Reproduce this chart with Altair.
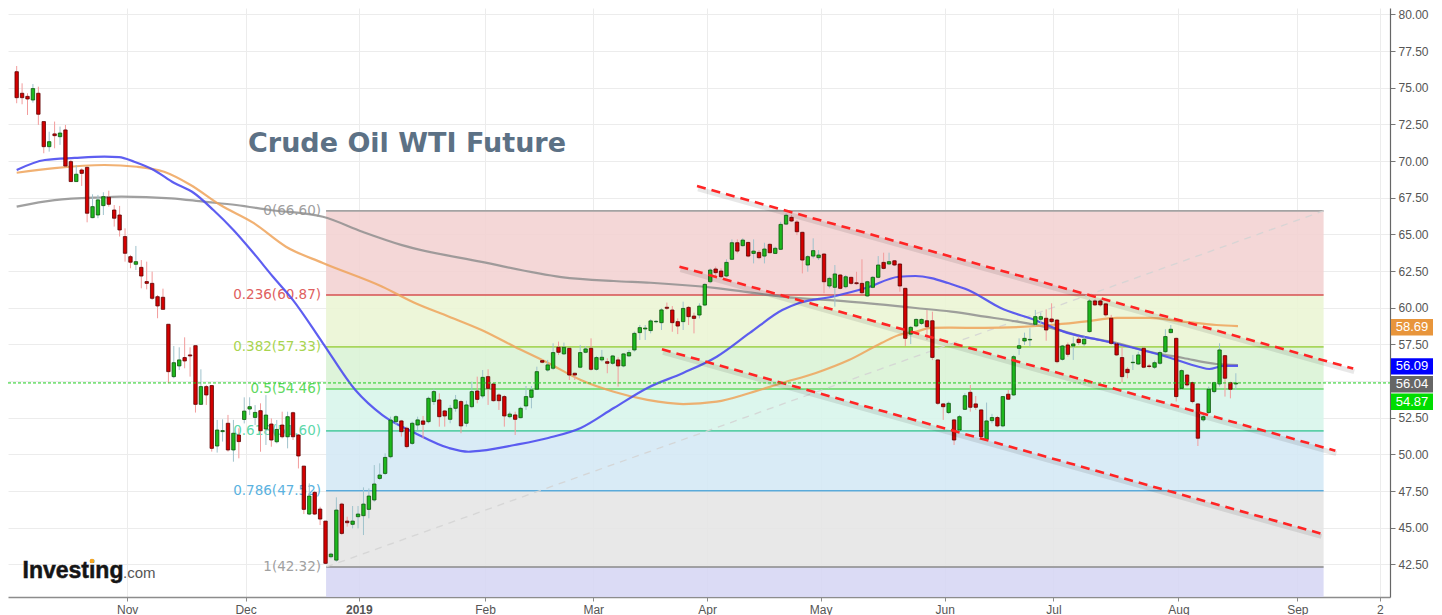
import altair as alt
import pandas as pd

# ---------------- candles (daily OHLC) ----------------
OPEN = [76.09, 74.62, 74.41, 74.16, 74.62, 72.69, 70.98, 71.85, 71.66, 72.12,
        69.96, 68.60, 69.39, 69.57, 66.14, 66.32, 66.96, 67.53, 66.66, 66.32,
        64.85, 63.48, 62.96, 62.75, 61.78, 61.66, 60.75, 60.71, 58.87, 55.30,
        56.03, 56.60, 56.78, 57.41, 53.41, 54.62, 54.69, 50.57, 51.55, 52.12,
        50.30, 51.32, 52.38, 53.09, 52.52, 52.98, 51.73, 52.07, 50.86, 52.00,
        51.20, 52.84, 51.32, 49.20, 45.93, 47.41, 46.27, 45.45, 43.02, 42.79,
        46.61, 45.45, 45.23, 45.75, 45.82, 46.25, 46.89, 48.36, 48.70, 49.84,
        52.23, 52.28, 51.78, 50.75, 52.00, 52.28, 52.23, 53.60, 53.71, 52.96,
        52.39, 53.14, 53.60, 52.12, 53.25, 54.32, 53.98, 55.30, 54.80, 54.05,
        53.94, 52.57, 52.69, 52.50, 53.30, 53.89, 54.44, 56.39, 55.75, 55.87,
        57.30, 56.85, 57.23, 55.53, 55.94, 56.96, 57.23, 55.80, 56.44, 56.32,
        56.21, 56.44, 56.03, 56.71, 57.12, 58.30, 58.55, 58.44, 59.04, 58.98,
        60.03, 59.84, 59.05, 59.05, 60.02, 59.43, 59.50, 60.18, 61.77, 62.64,
        62.50, 62.16, 63.30, 64.43, 64.23, 64.45, 63.70, 63.77, 63.52, 64.32,
        63.70, 63.98, 65.70, 66.16, 65.84, 65.14, 62.91, 63.52, 63.41, 63.66,
        61.48, 61.39, 62.23, 61.43, 62.07, 61.70, 61.66, 60.80, 61.39, 62.07,
        63.09, 62.98, 63.20, 62.98, 61.32, 58.20, 58.75, 58.93, 59.11, 59.11,
        56.44, 53.44, 52.85, 52.35, 51.66, 53.07, 54.23, 53.44, 53.03, 51.03,
        52.30, 52.51, 51.94, 54.10, 54.05, 57.23, 57.73, 57.80, 58.87, 59.21,
        59.28, 59.23, 59.16, 56.48, 57.46, 57.39, 57.85, 57.53, 58.37, 60.46,
        60.46, 60.26, 59.28, 57.53, 56.60, 55.80, 56.25, 56.16, 57.23, 56.03,
        55.94, 56.21, 57.00, 58.30, 57.91, 54.50, 55.41, 54.89, 53.44, 52.35,
        52.85, 54.28, 54.80, 56.73, 54.89, 54.80]
HIGH = [76.48, 75.30, 74.62, 75.25, 75.07, 72.69, 72.00, 72.69, 72.35, 72.46,
        70.07, 69.73, 69.50, 69.62, 67.73, 67.69, 67.87, 67.98, 67.00, 66.94,
        65.41, 63.60, 64.21, 63.25, 63.14, 62.46, 60.87, 61.30, 58.87, 57.39,
        57.30, 57.98, 57.30, 57.41, 55.80, 54.73, 54.73, 52.35, 52.39, 52.69,
        52.35, 51.78, 53.89, 53.89, 53.36, 53.48, 54.04, 52.45, 52.34, 52.91,
        52.91, 52.91, 51.39, 49.20, 48.02, 47.52, 46.43, 45.45, 43.29, 47.07,
        46.70, 45.75, 46.48, 46.48, 47.75, 47.68, 49.27, 49.39, 50.07, 52.57,
        52.68, 52.35, 51.89, 52.23, 52.57, 52.62, 53.94, 54.50, 54.16, 53.03,
        53.37, 54.05, 53.71, 53.66, 54.96, 55.30, 55.75, 55.80, 54.89, 54.16,
        54.05, 52.91, 52.91, 53.25, 54.66, 54.66, 55.98, 56.50, 56.44, 57.57,
        57.69, 57.62, 57.23, 55.57, 57.46, 57.39, 57.91, 56.71, 57.12, 56.55,
        56.78, 56.62, 56.89, 57.12, 58.37, 58.82, 58.82, 59.21, 59.16, 59.96,
        60.35, 60.11, 59.27, 60.41, 60.11, 59.66, 60.30, 61.66, 62.68, 62.80,
        62.68, 63.30, 64.66, 64.66, 64.73, 64.50, 64.66, 63.93, 64.43, 64.39,
        64.16, 65.86, 66.43, 66.32, 65.98, 65.18, 63.59, 64.73, 63.93, 63.70,
        62.11, 62.91, 62.30, 62.23, 62.11, 62.45, 63.30, 61.84, 62.16, 63.52,
        63.75, 63.75, 63.25, 63.02, 61.36, 58.75, 59.27, 59.27, 59.84, 59.73,
        56.48, 53.48, 53.60, 52.39, 52.69, 54.17, 54.73, 53.98, 53.07, 53.53,
        52.76, 52.62, 53.98, 54.39, 56.78, 57.91, 58.30, 58.60, 59.85, 59.66,
        59.89, 60.30, 59.21, 57.46, 57.62, 58.03, 58.03, 58.03, 60.57, 60.57,
        60.57, 60.30, 59.51, 57.62, 57.35, 55.94, 56.78, 57.00, 57.35, 56.16,
        56.39, 57.07, 58.53, 58.82, 57.96, 55.80, 55.48, 54.96, 53.48, 52.69,
        54.62, 54.96, 57.57, 56.78, 54.96, 55.53]
LOW = [73.94, 73.87, 73.14, 73.98, 72.46, 70.53, 70.64, 70.87, 71.10, 69.62,
       68.60, 68.60, 68.30, 65.82, 66.10, 66.10, 66.32, 66.89, 65.53, 64.85,
       63.14, 62.69, 62.57, 61.32, 61.25, 60.53, 59.28, 59.89, 54.85, 55.19,
       55.75, 55.87, 55.30, 52.85, 53.37, 53.37, 50.19, 50.12, 50.87, 50.19,
       49.50, 49.73, 52.11, 52.68, 52.00, 50.18, 50.64, 50.52, 50.75, 51.09,
       50.41, 50.98, 49.04, 45.93, 45.86, 45.86, 45.18, 42.52, 42.91, 42.68,
       44.50, 45.07, 44.95, 44.95, 44.50, 45.64, 46.77, 48.25, 48.59, 49.73,
       52.00, 51.21, 50.41, 50.64, 51.66, 51.10, 52.12, 53.37, 51.89, 51.89,
       52.12, 52.91, 51.44, 51.89, 53.14, 53.48, 53.82, 53.37, 53.60, 53.03,
       51.89, 52.46, 51.32, 52.46, 53.03, 53.14, 54.39, 56.21, 55.64, 55.75,
       56.78, 56.78, 55.07, 55.07, 55.87, 56.89, 55.71, 55.71, 56.32, 55.53,
       56.10, 54.62, 55.94, 56.66, 57.00, 57.80, 57.80, 58.25, 58.94, 58.48,
       59.85, 58.36, 58.20, 58.48, 58.82, 58.25, 59.27, 60.11, 61.66, 62.11,
       62.00, 62.07, 63.25, 63.70, 64.16, 63.43, 63.02, 63.30, 63.02, 63.70,
       63.66, 63.93, 65.64, 65.84, 64.95, 62.34, 62.45, 63.36, 63.25, 60.98,
       61.32, 60.07, 61.25, 61.32, 61.55, 61.55, 60.93, 60.75, 61.32, 62.00,
       62.61, 62.91, 62.84, 61.09, 57.39, 57.52, 58.66, 58.82, 57.80, 56.43,
       53.37, 52.35, 52.75, 50.64, 51.55, 53.03, 52.91, 53.03, 51.10, 50.94,
       52.12, 51.85, 51.85, 53.71, 53.98, 56.78, 57.46, 57.35, 58.75, 58.82,
       57.75, 58.94, 56.21, 56.39, 56.66, 56.44, 57.46, 57.39, 58.30, 60.12,
       60.07, 59.39, 57.46, 56.71, 54.89, 55.19, 55.75, 56.10, 55.87, 55.87,
       55.82, 56.10, 56.89, 58.25, 53.60, 54.39, 54.62, 53.48, 50.57, 52.23,
       52.75, 54.17, 54.62, 53.94, 53.82, 54.39]
CLOSE = [74.32, 74.32, 74.23, 74.94, 73.19, 70.98, 71.32, 71.73, 71.91, 69.66,
         68.60, 69.10, 69.16, 66.44, 66.89, 67.35, 67.57, 67.05, 66.10, 65.30,
         63.71, 63.10, 63.14, 62.16, 61.66, 60.64, 60.12, 59.89, 55.64, 56.25,
         56.44, 56.37, 56.71, 53.41, 54.62, 54.05, 50.41, 51.66, 51.62, 50.30,
         51.44, 50.87, 52.95, 53.25, 52.86, 51.61, 52.68, 50.98, 51.70, 51.20,
         52.57, 51.20, 49.89, 46.25, 47.16, 45.93, 45.59, 42.57, 43.20, 46.20,
         44.61, 45.34, 45.45, 45.93, 46.61, 47.16, 47.98, 48.59, 49.79, 52.34,
         52.57, 51.55, 50.53, 52.12, 52.35, 52.05, 53.82, 54.28, 52.57, 52.62,
         53.14, 53.71, 51.94, 53.37, 54.28, 53.75, 55.25, 54.50, 53.66, 53.66,
         52.62, 52.75, 52.39, 53.14, 53.94, 54.39, 55.64, 56.28, 56.10, 56.94,
         56.96, 57.30, 55.41, 55.41, 56.94, 57.19, 55.80, 56.60, 56.62, 56.21,
         56.71, 56.03, 56.85, 56.94, 58.25, 58.64, 58.61, 59.10, 59.07, 59.85,
         59.96, 58.98, 58.75, 59.95, 59.39, 59.27, 60.11, 61.59, 62.57, 62.39,
         62.11, 63.09, 64.43, 63.86, 64.61, 63.52, 63.86, 63.41, 64.00, 63.75,
         64.05, 65.68, 66.30, 65.91, 65.18, 63.25, 63.48, 63.89, 63.59, 61.77,
         62.00, 62.30, 61.32, 62.11, 61.66, 61.64, 61.02, 61.77, 62.07, 62.91,
         62.68, 63.14, 62.91, 61.48, 57.91, 58.66, 59.20, 59.20, 58.70, 56.61,
         53.48, 53.25, 53.48, 50.98, 52.57, 54.00, 53.21, 53.21, 51.21, 52.28,
         52.51, 51.94, 53.94, 53.76, 56.66, 57.41, 57.91, 57.84, 59.39, 59.39,
         58.48, 59.05, 56.32, 57.39, 56.82, 57.53, 57.62, 57.85, 60.46, 60.19,
         60.19, 59.51, 57.57, 56.78, 55.30, 55.57, 56.28, 56.78, 55.94, 55.99,
         56.25, 56.94, 58.03, 58.53, 53.94, 55.71, 54.73, 53.60, 51.10, 52.57,
         54.44, 54.89, 57.12, 55.19, 54.44, 54.86]

# ---------------- moving averages (bar index, price) ----------------
MA_BLUE_I = [0, 5.2, 10.7, 16.2, 18.9, 21.7, 25.3, 29.0, 32.7, 36.3, 40.0, 43.7, 47.3,
             51.0, 56.5, 62.5, 67.5, 73.5, 79.8, 83.4, 85.8, 91.9, 98.1, 104.1, 110.2,
             116.4, 123.0, 129.2, 135.3, 141.3, 144.4, 150.5, 156.7, 162.8, 165.9,
             168.8, 171.9, 175.6, 181.6, 187.9, 193.9, 199.9, 206.2, 212.2, 218.3,
             220.1, 222.7, 225.4]
MA_BLUE_V = [69.39, 70.07, 70.21, 70.30, 70.27, 69.95, 69.39, 68.52, 67.82, 66.66, 65.30,
             63.73, 62.11, 60.52, 57.59, 54.39, 52.68, 51.46, 50.43, 50.18, 50.25, 50.64,
             51.12, 51.80, 53.16, 54.53, 55.55, 56.66, 58.28, 59.84, 60.32, 60.75, 61.34,
             62.11, 62.16, 62.02, 61.68, 61.21, 59.98, 59.16, 58.28, 57.80, 57.25, 56.66,
             55.96, 55.82, 56.03, 56.03]
MA_ORANGE_I = [0, 7.0, 16.2, 22.2, 27.2, 32.1, 37.6, 43.7, 49.7, 56.5, 67.5, 73.5, 79.8,
               85.8, 91.9, 98.1, 104.1, 110.2, 116.4, 123.0, 129.2, 135.3, 141.3, 147.5,
               153.6, 159.6, 162.8, 165.9, 168.8, 171.9, 178.7, 190.8, 197.0, 203.1,
               209.1, 215.3, 221.4, 225.4]
MA_ORANGE_V = [69.20, 69.52, 69.73, 69.61, 69.27, 68.37, 67.00, 65.78, 64.16, 63.05, 61.43,
               60.32, 59.39, 58.48, 57.34, 56.23, 55.07, 54.27, 53.71, 53.43, 53.59, 54.18,
               54.87, 55.55, 56.43, 57.59, 58.14, 58.36, 58.62, 58.64, 58.62, 58.82, 59.05,
               59.30, 59.30, 59.05, 58.82, 58.75]
MA_GRAY_I = [0, 7.0, 16.2, 19.3, 28.5, 34.5, 40.5, 46.8, 56.5, 63.8, 71.1, 85.8, 100.5,
             110.2, 117.0, 129.2, 141.3, 153.6, 165.9, 172.5, 178.7, 184.7, 190.8, 197.0,
             203.1, 209.1, 215.3, 221.4, 225.4]
MA_GRAY_V = [66.89, 67.34, 67.53, 67.57, 67.46, 67.23, 67.00, 66.66, 66.20, 65.18, 64.27,
             63.12, 62.09, 61.82, 61.70, 61.34, 60.75, 60.41, 59.98, 59.73, 59.39, 59.05,
             58.62, 58.02, 57.59, 57.00, 56.57, 56.16, 56.09]

# ---------------- Fibonacci retracement ----------------
FIB_RATIO = ["0", "0.236", "0.382", "0.5", "0.618", "0.786", "1"]
FIB_LEVEL = [66.60, 60.87, 57.33, 54.46, 51.60, 47.52, 42.32]
FIB_FILL = ["#f3d2d2", "#ebf5d4", "#d9f3d5", "#d7f5eb", "#d4e8f5", "#e5e5e5", "#d6d6f4"]
FIB_LINE = ["#a3a3a3", "#d65050", "#a8d65c", "#66d966", "#5ccfa8", "#5aaada", "#8a8a8a"]
FIB_TEXT = ["#a0a0a0", "#e06060", "#a8d450", "#60d860", "#60d8ab", "#5ab2e0", "#a0a0a0"]
FIB_START, FIB_END = 57.1, 241.2

# ---------------- channel lines (start bar, start price, end bar, end price) ----------------
CH_ID = ["upper", "middle", "lower"]
CH_X0 = [125.56, 122.32, 119.09]
CH_Y0 = [68.30, 62.80, 57.16]
CH_X1 = [246.66, 243.37, 240.62]
CH_Y1 = [55.85, 50.25, 44.61]

# ---------------- axis ticks ----------------
MONTH_POS = [20.39, 42.25, 63.15, 86.44, 106.41, 127.44, 148.37, 171.27, 191.35, 214.4, 236.35, 251.6]
MONTH_LABELS = ["Nov", "Dec", "2019", "Feb", "Mar", "Apr", "May", "Jun", "Jul", "Aug", "Sep", "2"]
Y_TICKS = [42.5, 45.0, 47.5, 50.0, 52.5, 55.0, 57.5, 60.0, 62.5, 65.0, 67.5, 70.0, 72.5, 75.0, 77.5, 80.0]

# ---------------- right-hand price tags ----------------
TAG_TEXT = ["58.69", "56.09", "56.04", "54.87"]
TAG_POS = [58.67, 56.00, 54.78, 53.59]
TAG_COLOR = ["#e8953b", "#0000ff", "#666666", "#00dd00"]
LAST_PRICE = 54.87

TITLE = "Crude Oil WTI Future"

# ---------------- layout ----------------
W, H = 1382, 589
X_DOM = [-0.678, 252.53]
Y_DOM = [40.275, 80.434]

xs = alt.Scale(domain=X_DOM, nice=False, zero=False)
ys = alt.Scale(domain=Y_DOM, nice=False, zero=False)

label_expr = " : ".join(f"datum.value == {p} ? '{t}'" for p, t in zip(MONTH_POS, MONTH_LABELS)) + " : ''"
xaxis = alt.Axis(values=MONTH_POS, labelExpr=label_expr, title=None, grid=True,
                 gridColor="#ececec", domainColor="#8c8c8c", domainWidth=1.5,
                 tickColor="#8c8c8c", tickSize=4, labelFontSize=12, labelFont="Liberation Sans",
                 labelColor="#555555", labelPadding=3, labelFlush=False, labelOverlap=False,
                 labelFontWeight={"condition": {"test": f"datum.value == {MONTH_POS[2]}", "value": "bold"},
                                  "value": "normal"})
yaxis = alt.Axis(orient="right", values=Y_TICKS, format=".2f", title=None, grid=True,
                 gridColor="#ececec", domainColor="#666666", domainWidth=1.2, tickColor="#777777",
                 tickSize=5, labelFontSize=12, labelFont="Liberation Sans", labelColor="#555555",
                 labelPadding=3, labelOverlap=False)


def X(f):
    return alt.X(f, type="quantitative", scale=xs, axis=xaxis)


def Y(f):
    return alt.Y(f, type="quantitative", scale=ys, axis=yaxis)


candles = pd.DataFrame({"i": list(range(len(CLOSE))), "open": OPEN, "high": HIGH,
                        "low": LOW, "close": CLOSE})

band_bottom = FIB_LEVEL[1:] + [Y_DOM[0]]
fib = pd.DataFrame({"ratio": FIB_RATIO, "level": FIB_LEVEL, "bottom": band_bottom,
                    "fill": FIB_FILL, "line": FIB_LINE, "tc": FIB_TEXT,
                    "x0": [FIB_START] * len(FIB_LEVEL), "x1": [FIB_END] * len(FIB_LEVEL)})
fib["label"] = [f"{r}({v:.2f})" for r, v in zip(FIB_RATIO, FIB_LEVEL)]

bands = alt.Chart(fib).mark_rect(opacity=0.88).encode(
    x=X("x0"), x2=alt.X2("x1"), y=Y("level"), y2=alt.Y2("bottom"),
    color=alt.Color("fill:N", scale=None))
fib_lines = alt.Chart(fib).mark_rule(strokeWidth=1.6).encode(
    x=X("x0"), x2=alt.X2("x1"), y=Y("level"), color=alt.Color("line:N", scale=None))
fib_labels = alt.Chart(fib).mark_text(align="right", baseline="middle", dx=-5,
                                      font="DejaVu Sans", fontSize=13.5).encode(
    x=X("x0"), y=Y("level"), text="label:N", color=alt.Color("tc:N", scale=None))

diag = alt.Chart(pd.DataFrame({"x": [FIB_START, FIB_END], "y": [FIB_LEVEL[-1], FIB_LEVEL[0]]})).mark_line(
    color="#d4d4d4", strokeDash=[7, 6], strokeWidth=1.3, opacity=0.9).encode(x=X("x"), y=Y("y"))


def ma(ix, vals, color, op):
    return alt.Chart(pd.DataFrame({"i": ix, "v": vals})).mark_line(
        color=color, strokeWidth=2.2, opacity=op, interpolate="monotone").encode(x=X("i"), y=Y("v"))


ma_gray = ma(MA_GRAY_I, MA_GRAY_V, "#8f8f8f", 0.85)
ma_orange = ma(MA_ORANGE_I, MA_ORANGE_V, "#eea35a", 0.85)
ma_blue = ma(MA_BLUE_I, MA_BLUE_V, "#4c4cf0", 0.9)

up = "datum.close >= datum.open"
wicks = alt.Chart(candles).mark_rule(strokeWidth=1).encode(
    x=X("i"), y=Y("low"), y2=alt.Y2("high"),
    color=alt.condition(up, alt.value("#9fc3cc"), alt.value("#f29c9c")))
bodies = alt.Chart(candles).mark_bar(size=3.4, strokeWidth=0.8).encode(
    x=X("i"), y=Y("open"), y2=alt.Y2("close"),
    color=alt.condition(up, alt.value("#1db81d"), alt.value("#d40000")),
    stroke=alt.condition(up, alt.value("#0d560d"), alt.value("#5c0000")))

ch = pd.DataFrame({"id": CH_ID * 2, "x": CH_X0 + CH_X1, "y": CH_Y0 + CH_Y1})
ch_shadow = alt.Chart(ch).mark_line(color="#000000", opacity=0.09, strokeWidth=5,
                                    yOffset=3, xOffset=1).encode(x=X("x"), y=Y("y"), detail="id:N")
ch_lines = alt.Chart(ch).mark_line(color="#ff2424", strokeWidth=2.6, strokeDash=[9, 6]).encode(
    x=X("x"), y=Y("y"), detail="id:N")

last_line = alt.Chart(pd.DataFrame({"p": [LAST_PRICE]})).mark_rule(
    color="#1ccc1c", strokeWidth=1, strokeDash=[3, 2]).encode(
    x=alt.value(0), x2=alt.value(W), y=Y("p"))

tags = pd.DataFrame({"text": TAG_TEXT, "pos": TAG_POS, "color": TAG_COLOR})
tag_box = alt.Chart(tags).transform_calculate(lo="datum.pos - 0.56", hi="datum.pos + 0.56").mark_rect().encode(
    x=alt.value(W + 1), x2=alt.value(W + 43), y=Y("lo:Q"), y2=alt.Y2("hi:Q"),
    color=alt.Color("color:N", scale=None))
tag_text = alt.Chart(tags).mark_text(color="white", fontSize=13, font="Liberation Sans",
                                     align="center", baseline="middle").encode(
    x=alt.value(W + 22), y=Y("pos"), text="text:N")

title = alt.Chart(pd.DataFrame({"t": [TITLE]})).mark_text(
    align="left", baseline="alphabetic", font="DejaVu Sans", fontSize=27, fontWeight="bold",
    color="#5c7185").encode(x=alt.value(240), y=alt.value(143.5), text="t:N")
logo1 = alt.Chart(pd.DataFrame({"t": ["Investing"]})).mark_text(
    align="left", baseline="alphabetic", font="Liberation Sans", fontSize=23, fontWeight="bold",
    color="#151515", stroke="#151515", strokeWidth=0.5).encode(
    x=alt.value(14.5), y=alt.value(569.5), text="t:N")
logo_dot = alt.Chart(pd.DataFrame({"t": ["i"]})).mark_point(
    filled=True, color="#f5a623", size=22, opacity=1, shape="circle").encode(
    x=alt.value(84), y=alt.value(553))
logo2 = alt.Chart(pd.DataFrame({"t": [".com"]})).mark_text(
    align="left", baseline="alphabetic", font="Liberation Sans", fontSize=15,
    color="#555555").encode(x=alt.value(115), y=alt.value(569.5), text="t:N")

chart = alt.layer(
    bands, fib_lines, diag, fib_labels, ma_gray, ma_orange, ma_blue,
    wicks, bodies, ch_shadow, ch_lines, last_line, tag_box, tag_text,
    title, logo1, logo_dot, logo2
).properties(
    width=W, height=H,
    autosize=alt.AutoSizeParams(type="none"),
    padding={"left": 0, "top": 0, "right": 44, "bottom": 18},
    background="white"
).configure_view(stroke=None)

chart.save("out.html", embed_options={"renderer": "svg", "actions": False})
